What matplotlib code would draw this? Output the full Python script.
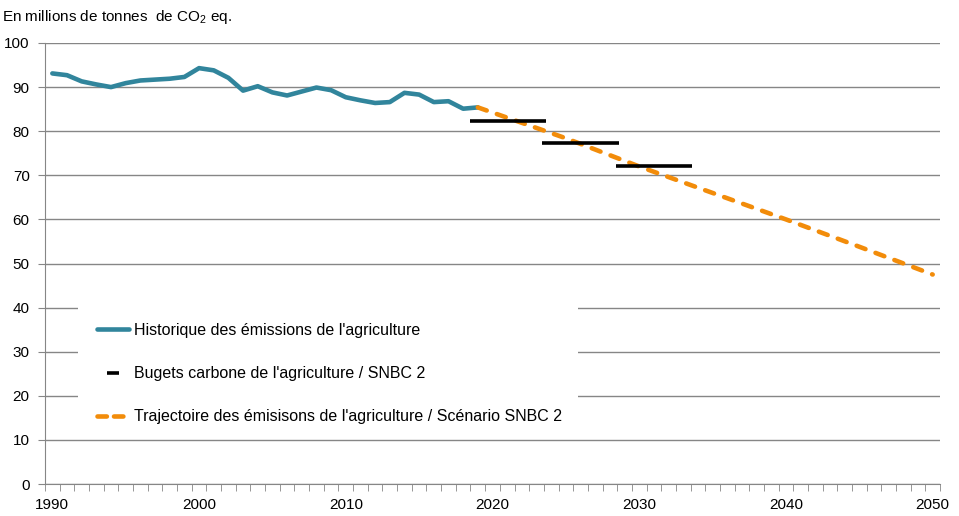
import matplotlib
matplotlib.use("Agg")
import matplotlib.pyplot as plt
from matplotlib.lines import Line2D
from matplotlib.patches import Rectangle
from matplotlib.ticker import FixedLocator, MultipleLocator

plt.rcParams["font.family"] = ["Liberation Sans", "DejaVu Sans"]
plt.rcParams["mathtext.default"] = "regular"

# historical emissions (Mt CO2 eq)
hist_years = list(range(1990, 2020))
hist_values = [93.1, 92.7, 91.3, 90.6, 90.0, 90.9, 91.5, 91.7, 91.9, 92.3,
               94.3, 93.8, 92.1, 89.2, 90.2, 88.8, 88.1, 89.0, 89.9, 89.3,
               87.7, 87.0, 86.4, 86.6, 88.7, 88.3, 86.6, 86.8, 85.1, 85.4]

# SNBC 2 trajectory
traj_years = [2019, 2025, 2030, 2035, 2040, 2045, 2050]
traj_values = [85.4, 78.4, 72.0, 66.0, 60.0, 53.8, 47.5]

# carbon budgets
budget_start = [2018.45, 2023.4, 2028.45]
budget_end = [2023.65, 2028.65, 2033.6]
budget_values = [82.2, 77.3, 72.0]

x_labels = [1990, 2000, 2010, 2020, 2030, 2040, 2050]

TEAL = "#31859c"
ORANGE = "#f28c0a"
GRID = "#868686"

W, H = 959, 516
fig = plt.figure(figsize=(W / 100, H / 100), dpi=100)
ax = fig.add_axes([45 / W, 1 - 484 / H, (940 - 45) / W, (484 - 43) / H])

ax.plot(hist_years, hist_values, color=TEAL, lw=3.3, solid_capstyle="round",
        solid_joinstyle="round", zorder=3)
ax.plot(traj_years, traj_values, color=ORANGE, lw=3.3, dashes=(2.05, 2.35),
        dash_capstyle="round", zorder=3)
ax.hlines(budget_values, budget_start, budget_end, color="black", lw=2.6, zorder=4)

# category axis: ticks between years, labels every ten years
ax.set_xlim(1989.5, 2050.5)
ax.set_ylim(0, 100)
ax.set_xticks(x_labels)
ax.xaxis.set_minor_locator(FixedLocator([1989.5 + k for k in range(62)]))
ax.yaxis.set_major_locator(MultipleLocator(10))
ax.grid(axis="y", color=GRID, lw=1)
ax.set_axisbelow(True)
for side in ["top", "right"]:
    ax.spines[side].set_visible(False)
for side in ["left", "bottom"]:
    ax.spines[side].set_color(GRID)
ax.tick_params(axis="y", color=GRID, length=5, labelsize=11, pad=6)
ax.tick_params(axis="x", which="major", length=0, labelsize=11, pad=10)
ax.tick_params(axis="x", which="minor", color=GRID, length=5)

fig.text(2 / W, 1 - 17 / H, "En millions de tonnes  de CO$_2$ eq.", fontsize=11,
         va="center", ha="left")

# white legend area hiding the grid
ax.add_patch(Rectangle(((78 - 45) / 895, (484 - 432) / 441), (578 - 78) / 895,
                       (432 - 302) / 441, transform=ax.transAxes,
                       facecolor="white", edgecolor="none", zorder=2))

handles = [
    Line2D([], [], color=TEAL, lw=3.3, solid_capstyle="round"),
    Line2D([], [], color="black", marker="_", markersize=8, markeredgewidth=2.6,
           linestyle="none"),
    Line2D([], [], color=ORANGE, lw=3.3, dashes=(2.05, 1.55), dash_capstyle="round"),
]
labels = ["Historique des émissions de l'agriculture",
          "Bugets carbone de l'agriculture / SNBC 2",
          "Trajectoire des émisisons de l'agriculture / Scénario SNBC 2"]
leg = fig.legend(handles, labels, loc="upper left",
                 bbox_to_anchor=(97.3 / W, 1 - 323 / H), frameon=False,
                 fontsize=11.5, handlelength=1.97, handletextpad=0.33,
                 labelspacing=1.76, borderpad=0, borderaxespad=0)
leg.set_zorder(5)

fig.savefig("out.png", dpi=100)
